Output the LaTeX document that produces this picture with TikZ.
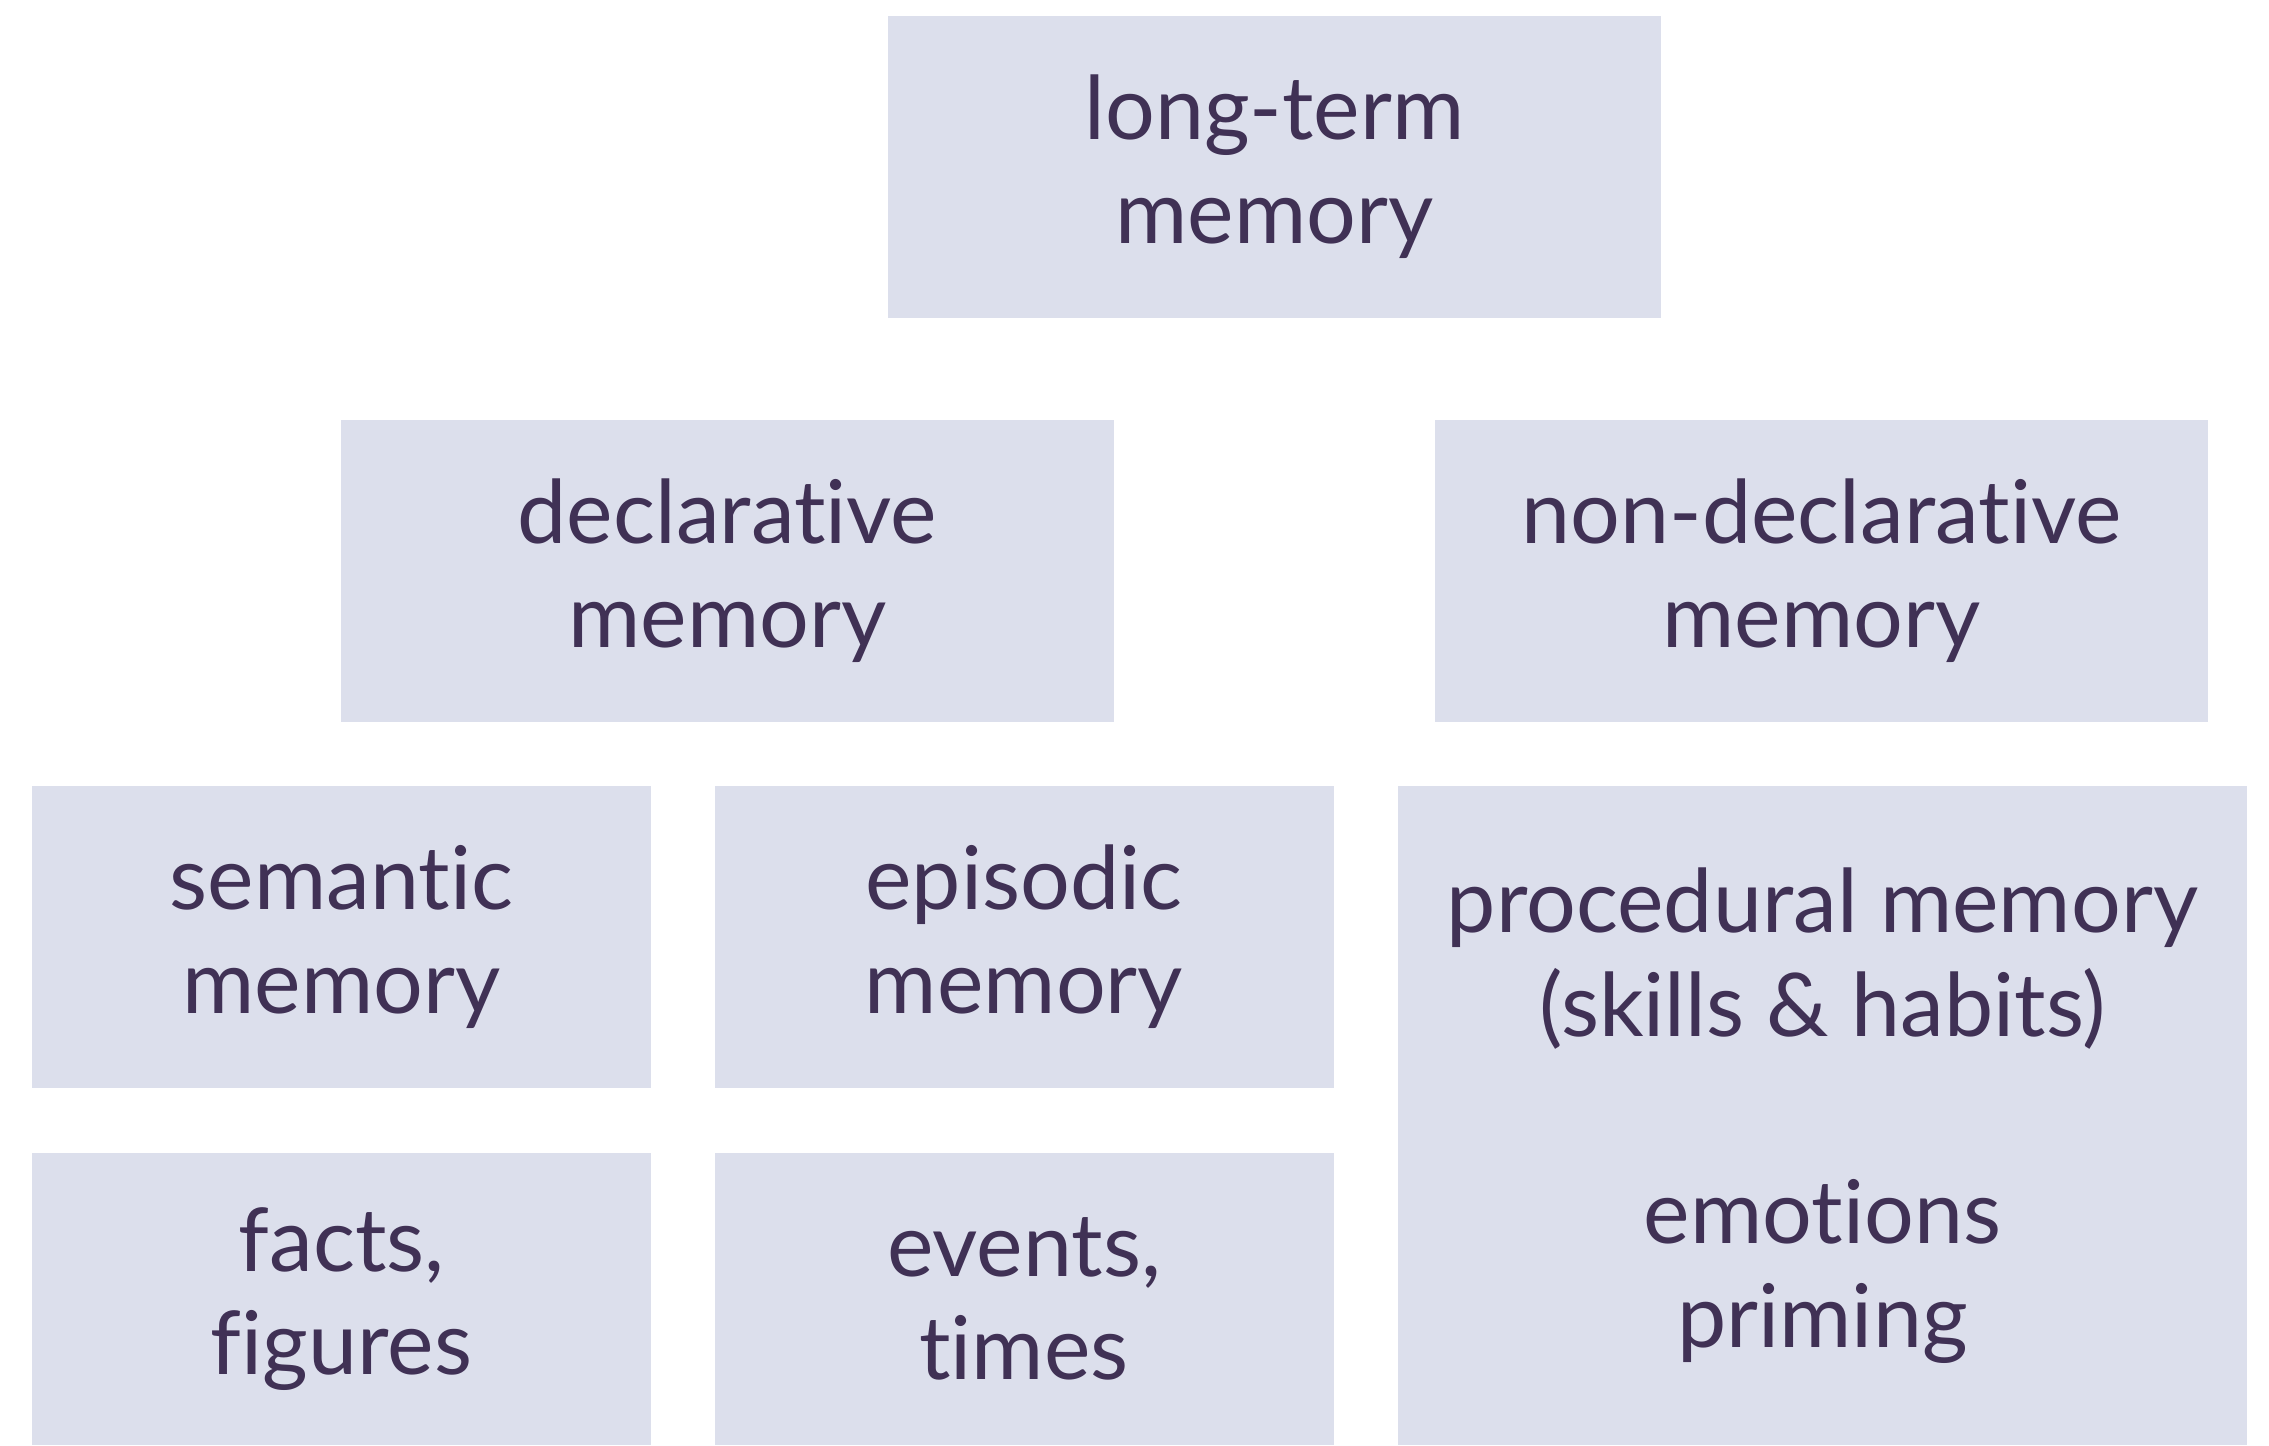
\documentclass[tikz,border=0pt]{standalone}
\usepackage{fontspec}
\setmainfont{Lato}[Ligatures=NoCommon]
\usepackage{tikz}

\definecolor{boxfill}{RGB}{220,223,236}
\definecolor{inkpurple}{RGB}{64,49,85}

\tikzset{
  membox/.style={fill=boxfill, text=inkpurple, inner sep=0pt, align=center,
    font=\fontsize{25}{29.5}\selectfont},
  widebox/.style={membox, minimum width=7.73cm, minimum height=3.02cm},
  smallbox/.style={membox, minimum width=6.19cm, minimum height=3.02cm}
}

\begin{document}
\begin{tikzpicture}
           \useasboundingbox (0,0) rectangle (22.69,14.45);
           % top level
           \node[widebox] (longterm) at (12.745,12.78) {long-term\\memory};
           % second level
           \node[widebox] (decl) at (7.275,8.745) {declarative\\memory};
           \node[widebox] (nondecl) at (18.215,8.745) {non-declarative\\memory};
           % third level
           \node[smallbox] (semantic) at (3.415,5.08) {semantic\\memory};
           \node[smallbox] (episodic) at (10.24,5.08) {episodic\\memory};
           \node[membox, minimum width=8.49cm, minimum height=6.59cm] (procedural) at (18.225,3.295)
              {procedural memory\\(skills \& habits)\\[29.5pt]emotions\\priming};
           % examples
           \node[smallbox, minimum height=2.92cm] (facts) at (3.415,1.46) {facts,\\figures};
           \node[smallbox, minimum height=2.92cm] (events) at (10.24,1.46) {events,\\times};
\end{tikzpicture}
\end{document}
